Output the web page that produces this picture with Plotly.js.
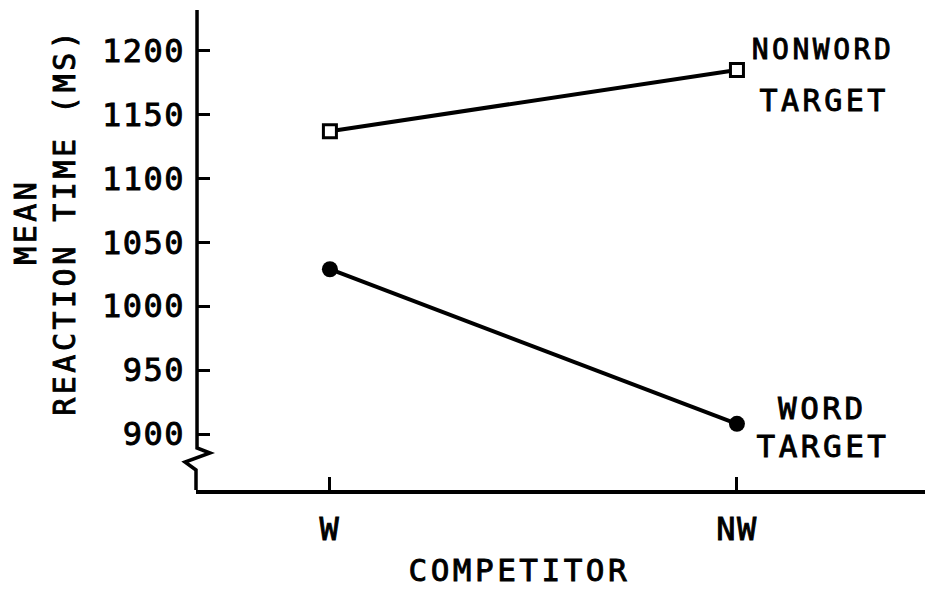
<!DOCTYPE html>
<html>
<head>
<meta charset="utf-8">
<script src="https://cdn.plot.ly/plotly-3.0.1.min.js"></script>
<style>
html,body{margin:0;padding:0;background:#fff;}
#chart{width:931px;height:590px;}
#chart .main-svg text{letter-spacing:1.5px;stroke:#000;stroke-width:0.9px;}
#chart .main-svg .annotation-text{letter-spacing:3.5px;}
</style>
</head>
<body>
<div id="chart"></div>
<script>
const categories = ['W', 'NW'];
const nonwordTarget = [1137, 1185];
const wordTarget = [1029, 908];
const yTickVals = [900, 950, 1000, 1050, 1100, 1150, 1200];
const xTitle = 'COMPETITOR';
const yTitle = 'MEAN<br>REACTION TIME (MS)';

const FONT = 'DejaVu Sans Mono';
const INK = '#000';

const traces = [
  {
    x: categories, y: nonwordTarget, type: 'scatter', mode: 'lines+markers',
    name: 'NONWORD TARGET',
    line: {color: INK, width: 4},
    marker: {symbol: 'square', size: 13, color: '#fff', line: {color: INK, width: 3}},
    cliponaxis: false
  },
  {
    x: categories, y: wordTarget, type: 'scatter', mode: 'lines+markers',
    name: 'WORD TARGET',
    line: {color: INK, width: 4},
    marker: {symbol: 'circle', size: 16, color: INK, line: {color: INK, width: 0}},
    cliponaxis: false
  }
];

function ann(text, x, y, size, opts) {
  return Object.assign({
    text: text, x: x, y: y, xref: 'paper', yref: 'paper',
    xanchor: 'center', yanchor: 'middle', showarrow: false,
    font: {family: FONT, size: size, color: INK}
  }, opts || {});
}

const layout = {
  width: 931, height: 590,
  margin: {l: 196, r: 6, t: 10, b: 100},
  paper_bgcolor: '#fff', plot_bgcolor: '#fff',
  showlegend: false,
  font: {family: FONT, size: 32, color: INK},
  xaxis: {
    type: 'category',
    range: [-0.329, 1.462],
    showgrid: false, zeroline: false,
    showline: true, linecolor: INK, linewidth: 3.5,
    ticks: 'inside', ticklen: 13, tickwidth: 3, tickcolor: INK,
    ticklabelstandoff: 8,
    tickfont: {family: FONT, size: 32, color: INK}
  },
  yaxis: {
    range: [856.2, 1231.9],
    tickvals: yTickVals,
    showgrid: false, zeroline: false, showline: false,
    ticks: 'inside', ticklen: 14, tickwidth: 3, tickcolor: INK,
    ticklabelstandoff: 10,
    tickfont: {family: FONT, size: 32, color: INK}
  },
  shapes: [
    {
      type: 'path', xref: 'paper', yref: 'paper',
      path: 'M 0.0014 1 L 0.0014 0.0875 L 0.0192 0.0771 L -0.0151 0.0583 L 0 0.0417 L 0 0',
      line: {color: INK, width: 3.5}, fillcolor: 'rgba(0,0,0,0)', layer: 'above'
    }
  ],
  annotations: [
    ann(xTitle, 0.4440, -0.167, 31),
    ann(yTitle, -0.207, 0.558, 30, {textangle: -90}),
    ann('NONWORD', 0.8600, 0.9167, 28),
    ann('TARGET', 0.8610, 0.8125, 30),
    ann('WORD', 0.8590, 0.1700, 31),
    ann('TARGET', 0.8600, 0.0920, 31)
  ]
};

Plotly.newPlot('chart', traces, layout, {displayModeBar: false, staticPlot: true});
</script>
</body>
</html>
